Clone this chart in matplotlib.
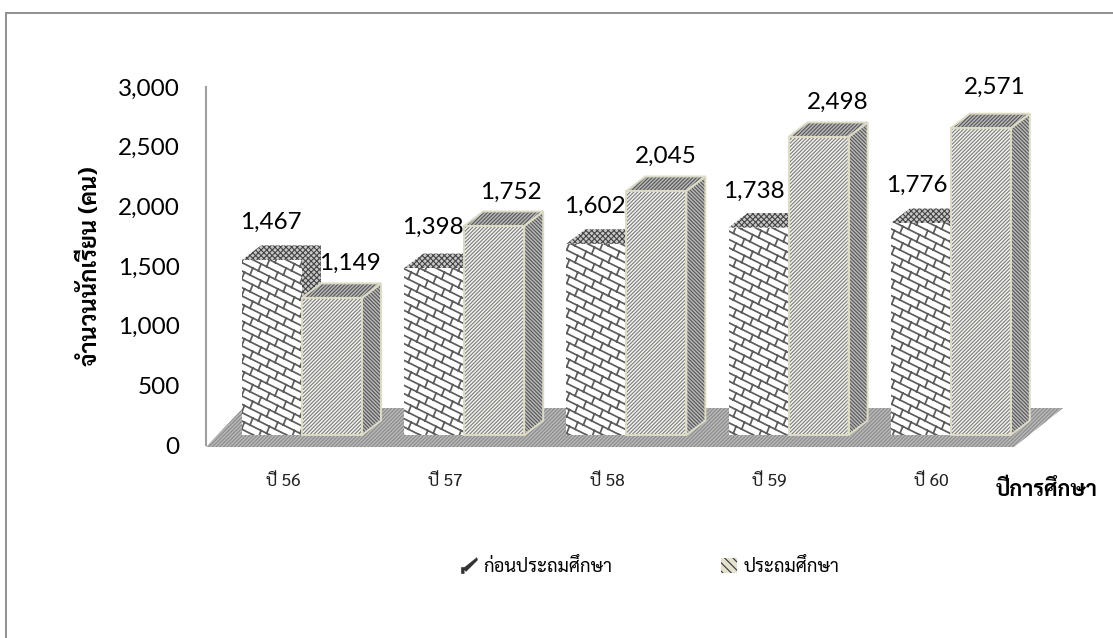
import matplotlib
matplotlib.use("Agg")
import matplotlib.hatch as mhatch
import matplotlib.pyplot as plt
from matplotlib.lines import Line2D
from matplotlib.patches import Patch, Polygon, Rectangle
from matplotlib.path import Path

years = ["ปี 56", "ปี 57", "ปี 58", "ปี 59", "ปี 60"]
preschool = [1467, 1398, 1602, 1738, 1776]
primary = [1149, 1752, 2045, 2498, 2571]
series_names = ["ก่อนประถมศึกษา", "ประถมศึกษา"]

THAI = ["Sarabun", "DejaVu Sans"]
LATIN = ["Lato", "DejaVu Sans"]
W, H = 1113, 638
plt.rcParams["hatch.linewidth"] = 0.8


# shingle fill like the excel pattern, takes over the '*' hatch letter
class Shingle(mhatch.HatchPatternBase):
    rows = 12
    per_row = 6

    def __init__(self, hatch, density):
        self.on = "*" in hatch
        self.num_vertices = (self.rows + 7) * 2 + (self.rows + 7) * (self.per_row + 1) * 2 if self.on else 0

    def set_vertices_and_codes(self, vertices, codes):
        n = 0
        for k in range(self.rows + 7):
            c = k / self.rows
            vertices[n] = (0, c)
            vertices[n + 1] = (1, c - 0.5)
            n += 2
            for j in range(self.per_row + 1):
                x = j / self.per_row + (k % 2) / (2 * self.per_row)
                vertices[n] = (x, c - 0.5 * x)
                x2 = x + 1 / 36
                vertices[n + 1] = (x2, c + 1 / self.rows - 0.5 * x2)
                n += 2
        codes[0::2] = Path.MOVETO
        codes[1::2] = Path.LINETO


mhatch._hatch_types = [t for t in mhatch._hatch_types if t is not mhatch.Stars] + [Shingle]

# pixel layout of the plot box
left, right, top, bottom = 206, 1014, 87, 445
px_x = 162.2                  # pixels between groups
px_y = (bottom - top) / 3000  # pixels per student

fig = plt.figure(figsize=(W / 100, H / 100), dpi=100)
ax = fig.add_axes([left / W, 1 - bottom / H, (right - left) / W, (bottom - top) / H])
ax.set_xlim((left - 302) / px_x, (right - 302) / px_x)
ax.set_ylim(0, 3000)

bar_w = 60 / px_x
dx = 19 / px_x     # fake 3d depth
dy = 14.5 / px_y
lift = 10 / px_y   # bars stand a bit above the front edge of the floor
fine = "/" * 9
fine_back = "\\" * 9


def face(pts, fc, ec, hatch, z):
    ax.add_patch(Polygon(pts, closed=True, facecolor=fc, edgecolor=ec, hatch=hatch,
                         linewidth=0, zorder=z, clip_on=False))


# floor
face([(ax.get_xlim()[0], -17), (ax.get_xlim()[1], -17),
      (ax.get_xlim()[1] + 49 / px_x, 37 / px_y), (ax.get_xlim()[0] + 37 / px_x, 37 / px_y)],
     "#b8b8b8", "#8a8a8a", fine, 1)


def draw_bar(x, v, front_fc, front_hatch, front_ec, top_hatch, side_hatch, side_fc, side_ec, z, rim=None, front_lw=0.8):
    y0, y1 = lift, lift + v
    plt.rcParams["hatch.linewidth"] = front_lw
    ax.bar(x, v, bar_w, bottom=lift, align="edge", facecolor=front_fc, edgecolor=front_ec,
           hatch=front_hatch, linewidth=0, zorder=z + 2, clip_on=False)
    plt.rcParams["hatch.linewidth"] = 0.8
    face([(x + bar_w, y0), (x + bar_w + dx, y0 + dy), (x + bar_w + dx, y1 + dy), (x + bar_w, y1)],
         side_fc, side_ec, side_hatch, z)
    face([(x, y1), (x + dx, y1 + dy), (x + bar_w + dx, y1 + dy), (x + bar_w, y1)],
         side_fc, side_ec, top_hatch, z + 1)
    if rim:
        # pale outline round all three faces
        for pts in ([(x, y0), (x, y1), (x + bar_w, y1), (x + bar_w, y0)],
                    [(x, y1), (x + dx, y1 + dy), (x + bar_w + dx, y1 + dy), (x + bar_w, y1)],
                    [(x + bar_w, y0), (x + bar_w + dx, y0 + dy), (x + bar_w + dx, y1 + dy), (x + bar_w, y1)]):
            ax.add_patch(Polygon(pts, closed=True, fill=False, edgecolor=rim, linewidth=1.4,
                                 zorder=z + 3, clip_on=False))


for i in range(len(years)):
    z = 10 + i * 20
    draw_bar(i - bar_w, preschool[i], "white", "*", "#5c5c5c", "xxxxxx", "xxxxxx", "#c8c8c8", "#444444", z,
             front_lw=1.25)
    draw_bar(i, primary[i], "#f2f2ee", fine, "#7c7c7c", fine, fine_back, "#b8b8b8", "#555555", z + 5,
             rim="#dcdbc6")

# value labels, hand placed offsets in pixels from the middle of the bar top
off1 = [(-1, 38), (-1, 41), (-1, 37), (-5, 36), (-4, 38)]
off2 = [(18, 35), (17, 34), (9, 35), (19, 35), (14, 41)]
for i in range(len(years)):
    for v, x, (ox, oy) in ((preschool[i], i - bar_w / 2, off1[i]), (primary[i], i + bar_w / 2, off2[i])):
        ax.annotate(f"{v:,}", (x, lift + v), xytext=(ox * 0.72, oy * 0.72), textcoords="offset points",
                    ha="center", va="center", fontsize=17.5, family=LATIN, color="black",
                    zorder=200, annotation_clip=False)

ax.set_xticks([i - 19 / px_x for i in range(len(years))], years, family=THAI, fontsize=12.5, color="#222222")
ax.tick_params(axis="x", length=0, pad=20)
ax.set_yticks(range(0, 3001, 500))
ax.set_yticklabels([f"{v:,}" for v in range(0, 3001, 500)], family=LATIN, fontsize=17.5)
ax.tick_params(axis="y", length=0, pad=19)

for s in ("top", "right", "bottom"):
    ax.spines[s].set_visible(False)
ax.spines["left"].set_color("#a0a0a0")
ax.spines["left"].set_linewidth(1.5)
ax.set_facecolor("none")

fig.text(90 / W, 1 - 266 / H, "จำนวนนักเรียน (คน)", rotation=90, ha="center", va="center",
         family=THAI, fontweight="bold", fontsize=17)
fig.text(1047 / W, 1 - 490 / H, "ปีการศึกษา", ha="center", va="center",
         family=THAI, fontweight="bold", fontsize=15.5)

# legend marks
check = Path([(-1, -1), (-1, -0.2), (-0.6, -0.2), (0.9, 1), (1, 0.65), (-0.4, -0.75), (-0.6, -0.55), (-0.6, -1)],
             closed=False)
handles = [Line2D([], [], linestyle="none", marker=check, markersize=12, color="#333333", markeredgewidth=0),
           Patch(facecolor="#e3e2cf", edgecolor="#333333", hatch="\\\\\\\\", linewidth=0)]
fig.legend(handles, series_names, ncols=2, frameon=False, loc="center", bbox_to_anchor=(650 / W, 1 - 567 / H),
           prop={"family": THAI, "size": 13.3}, handlelength=0.85, handleheight=0.85, handletextpad=0.35,
           columnspacing=5.9)

# outer frame
fig.add_artist(Rectangle((6 / W, -0.01), 1.1, 1 - 13 / H + 0.01, transform=fig.transFigure,
                         fill=False, edgecolor="#8f8f8f", linewidth=1.4))

plt.savefig("out.png", dpi=100)
